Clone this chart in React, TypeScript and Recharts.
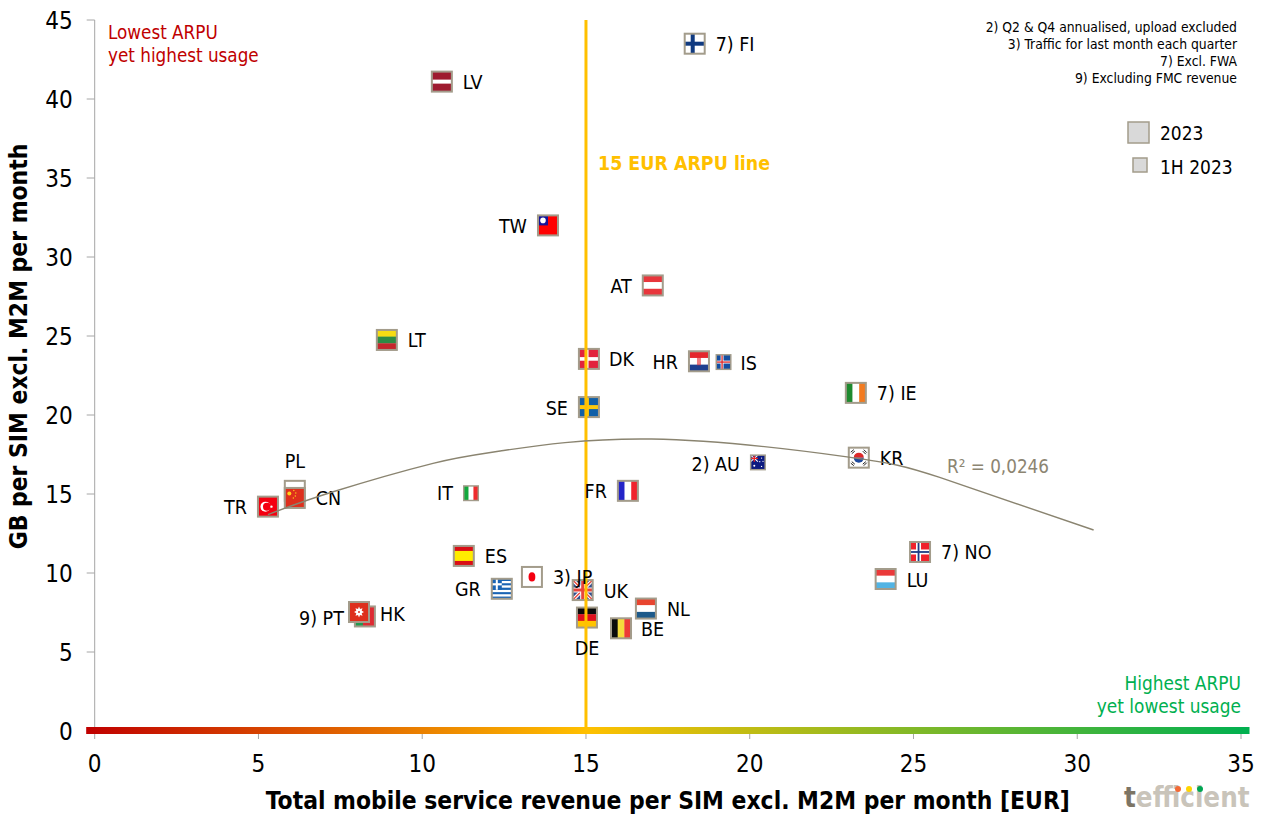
import React from 'react';
import { ComposedChart, Line, Scatter, XAxis, YAxis, ReferenceArea } from 'recharts';

const FONT = '"DejaVu Sans Condensed", "DejaVu Sans", sans-serif';

const xTicks = [0, 5, 10, 15, 20, 25, 30, 35];
const yTicks = [0, 5, 10, 15, 20, 25, 30, 35, 40, 45];

// 2023 flags
const fullYearCodes = ['FI', 'LV', 'TW', 'AT', 'LT', 'DK', 'HR', 'SE', 'IE', 'KR', 'FR', 'PL', 'CN', 'TR', 'ES', 'JP', 'GR', 'UK', 'DE', 'BE', 'NL', 'PT', 'HK', 'NO', 'LU'];
const fullYearArpu = [18.32, 10.6, 13.84, 17.04, 8.92, 15.09, 18.45, 15.09, 23.24, 23.33, 16.28, 6.11, 6.11, 5.29, 11.27, 13.35, 12.43, 14.9, 15.03, 16.07, 16.83, 8.25, 8.07, 25.2, 24.15];
const fullYearUsage = [43.5, 41.1, 32.0, 28.2, 24.75, 23.55, 23.4, 20.5, 21.4, 17.3, 15.2, 15.2, 14.75, 14.2, 11.08, 9.75, 9.0, 8.92, 7.18, 6.5, 7.75, 7.25, 7.53, 11.33, 9.62];

// 1H 2023 flags
const halfYearCodes = ['IS', 'AU', 'IT'];
const halfYearArpu = [19.2, 20.25, 11.49];
const halfYearUsage = [23.35, 17.0, 15.05];

const footnoteLabels: Record<string, string> = { FI: '7) FI', IE: '7) IE', NO: '7) NO', AU: '2) AU', JP: '3) JP', PT: '9) PT' };

// R2 trendline
const trendArpu = [5.29, 7.28, 10.33, 12.38, 17.0, 22.97, 25.8, 30.5];
const trendUsage = [13.7, 15.14, 16.94, 17.72, 18.48, 17.35, 16.05, 12.72];

// 15 EUR ARPU line
const arpuLineX = [15, 15];
const arpuLineY = [0, 45];

const notes = ['2) Q2 & Q4 annualised, upload excluded', '3) Traffic for last month each quarter', '7) Excl. FWA', '9) Excluding FMC revenue'];

const toRows = (codes: string[], arpu: number[], usage: number[]) =>
  codes.map((code, i) => ({ code, arpu: arpu[i], usage: usage[i] }));

const fullYearRows = toRows(fullYearCodes, fullYearArpu, fullYearUsage);
const halfYearRows = toRows(halfYearCodes, halfYearArpu, halfYearUsage);
const trendRows = trendArpu.map((arpu, i) => ({ arpu, usage: trendUsage[i] }));
const arpuLineRows = arpuLineX.map((arpu, i) => ({ arpu, usage: arpuLineY[i] }));

// where each country's name sits relative to its flag: [dx, dy, anchor]
const leftSide = ['TW', 'AT', 'HR', 'SE', 'FR', 'TR', 'GR', 'PT', 'AU', 'IT'];
const labelTweaks: Record<string, [number, number, string]> = {
  PL: [0, -29, 'middle'],
  DE: [0, 31, 'middle'],
  BE: [20, 1, 'start'],
  PT: [-21, 2, 'end'],
  HK: [21, 2, 'start'],
  DK: [20, 1, 'start'],
  AU: [-18, 2, 'end'],
  IT: [-18, 0, 'end'],
  IS: [17, 1, 'start'],
};

const stripesH = (colors: string[]) =>
  colors.map((c, i) => <rect key={i} x={0} y={(i * 20) / colors.length} width={20} height={20 / colors.length + (i < colors.length - 1 ? 0.3 : 0)} fill={c} />);
const stripesV = (colors: string[]) =>
  colors.map((c, i) => <rect key={i} x={(i * 20) / colors.length} y={0} width={20 / colors.length + (i < colors.length - 1 ? 0.3 : 0)} height={20} fill={c} />);
const cross = (bg: string, fg: string, w: number, inner?: string) => (
  <>
    <rect width={20} height={20} fill={bg} />
    <rect x={6} y={0} width={w} height={20} fill={fg} />
    <rect x={0} y={10 - w / 2} width={20} height={w} fill={fg} />
    {inner && <rect x={6 + w / 2 - 0.9} y={0} width={1.8} height={20} fill={inner} />}
    {inner && <rect x={0} y={9.1} width={20} height={1.8} fill={inner} />}
  </>
);
const unionJack = (
  <>
    <rect width={20} height={20} fill="#34508f" />
    <path d="M0 0L20 20M20 0L0 20" stroke="#fff" strokeWidth={3.5} />
    <path d="M0 0L20 20M20 0L0 20" stroke="#e8453c" strokeWidth={1.3} />
    <path d="M10 0V20M0 10H20" stroke="#fff" strokeWidth={5} />
    <path d="M10 0V20M0 10H20" stroke="#e8453c" strokeWidth={3} />
  </>
);

const flagArt: Record<string, React.ReactNode> = {
  FI: cross('#fff', '#103a80', 4),
  LV: (
    <>
      <rect width={20} height={20} fill="#9e1b2f" />
      <rect y={8} width={20} height={4} fill="#fff" />
    </>
  ),
  TW: (
    <>
      <rect width={20} height={20} fill="#f00" />
      <rect width={10} height={10} fill="#13139a" />
      <circle cx={5} cy={5} r={2.8} fill="#fff" />
    </>
  ),
  AT: stripesH(['#e8363c', '#fff', '#e8363c']),
  LT: stripesH(['#f6dc14', '#2e8b45', '#c5262d']),
  DK: cross('#e2233c', '#fff', 3.6),
  HR: (
    <>
      {stripesH(['#e5272d', '#fff', '#1f3f8f'])}
      <rect x={8} y={5} width={4} height={9} fill="#e5272d" opacity={0.6} />
    </>
  ),
  SE: cross('#0f5fa8', '#fdc90d', 4),
  IE: stripesV(['#1e8a2f', '#fff', '#f27b20']),
  KR: (
    <>
      <rect width={20} height={20} fill="#fff" />
      <path d="M5 10a5 5 0 0 1 10 0z" fill="#dd2a2a" />
      <path d="M5 10a5 5 0 0 0 10 0z" fill="#1f4a9e" />
      <path d="M2 4.5L5 2M3 6L6 3.5M15 2L18 5M14 3.5L17 6.5M2 15.5L5 18M3 14L6 16.5M15 18L18 15M14 16.5L17 14" stroke="#222" strokeWidth={1} />
    </>
  ),
  FR: stripesV(['#2424c8', '#fff', '#f0222c']),
  PL: stripesH(['#fff', '#dc2f2a']),
  CN: (
    <>
      <rect width={20} height={20} fill="#de2f1c" />
      <circle cx={4.5} cy={5.5} r={2} fill="#ffd21a" />
      <circle cx={9} cy={2.5} r={0.7} fill="#ffd21a" />
      <circle cx={11} cy={5} r={0.7} fill="#ffd21a" />
      <circle cx={10.5} cy={8} r={0.7} fill="#ffd21a" />
      <circle cx={8.5} cy={10} r={0.7} fill="#ffd21a" />
    </>
  ),
  TR: (
    <>
      <rect width={20} height={20} fill="#f40010" />
      <circle cx={7.5} cy={10} r={5} fill="#fff" />
      <circle cx={9} cy={10} r={4} fill="#f40010" />
      <circle cx={13.5} cy={10} r={1.2} fill="#fff" />
    </>
  ),
  ES: stripesH(['#d90f16', '#ffec00', '#ffec00', '#d90f16']),
  JP: (
    <>
      <rect width={20} height={20} fill="#fff" />
      <ellipse cx={10} cy={10} rx={3.4} ry={4.6} fill="#f40010" />
    </>
  ),
  GR: (
    <>
      {stripesH(['#1a64b4', '#fff', '#1a64b4', '#fff', '#1a64b4', '#fff', '#1a64b4', '#fff', '#1a64b4'])}
      <rect width={10} height={11} fill="#1a64b4" />
      <rect x={4} width={2} height={11} fill="#fff" />
      <rect y={4.4} width={10} height={2.2} fill="#fff" />
    </>
  ),
  UK: unionJack,
  DE: stripesH(['#0a0a0a', '#e0101c', '#ffc400']),
  BE: stripesV(['#0a0a0a', '#f5dc3c', '#ec3b36']),
  NL: stripesH(['#e8452f', '#fff', '#1d5a8a']),
  PT: (
    <>
      <rect width={20} height={20} fill="#de2a32" />
      <rect width={8} height={20} fill="#1f9a4e" />
    </>
  ),
  HK: (
    <>
      <rect width={20} height={20} fill="#de2f1c" />
      <path d="M10 4.5l1 2.500 2.500-.8-.8 2.600 2.300 1.200-2.300 1.200.8 2.600-2.500-.8-1 2.500-1-2.500-2.500.8.8-2.600-2.300-1.200 2.300-1.200-.8-2.600 2.500.8z" fill="#fff" />
      <circle cx={10} cy={10} r={1} fill="#de2f1c" />
    </>
  ),
  NO: cross('#f0222c', '#fff', 5, '#1e3c85'),
  LU: stripesH(['#ea3a3a', '#fff', '#52b4e4']),
  IS: cross('#144ea0', '#fff', 4, '#dc2a2a'),
  AU: (
    <>
      <rect width={20} height={20} fill="#0c1a80" />
      <path d="M0 0L10 9M10 0L0 9" stroke="#fff" strokeWidth={1.5} />
      <path d="M5 0V9M0 4.500H10" stroke="#e22" strokeWidth={1.8} />
      <circle cx={5} cy={14.5} r={1.4} fill="#fff" />
      <circle cx={15} cy={4} r={0.9} fill="#fff" />
      <circle cx={12.5} cy={9} r={0.9} fill="#fff" />
      <circle cx={17} cy={8.5} r={0.9} fill="#fff" />
      <circle cx={15} cy={15.5} r={0.9} fill="#fff" />
    </>
  ),
  IT: stripesV(['#12a83d', '#fff', '#ef2b2d']),
};

const makeFlag = (size: number) => (props: any) => {
  const { cx, cy, payload } = props;
  return (
    <g transform={`translate(${cx - size / 2},${cy - size / 2}) scale(${size / 22})`}>
      <g transform="translate(1,1)">
        {flagArt[payload.code]}
        <rect x={0} y={0} width={20} height={20} fill="none" stroke="#a39c8b" strokeWidth={2} />
      </g>
    </g>
  );
};

const CountryLabel = (props: any) => {
  const { cx, cy, payload } = props;
  const code = payload.code;
  const side = leftSide.includes(code) ? -21 : 21;
  const [dx, dy, anchor] = labelTweaks[code] ?? [side, 1, side < 0 ? 'end' : 'start'];
  return (
    <text x={cx + dx} y={cy + dy} textAnchor={anchor as any} dominantBaseline="central" fontSize={19.5} fill="#000">
      {footnoteLabels[code] ?? code}
    </text>
  );
};

const noMark = () => <g />;

export default function App() {
  return (
    <div style={{ position: 'absolute', left: 0, top: 0, width: 1264, height: 814, background: '#fff', fontFamily: FONT }}>
      <ComposedChart width={1264} height={814} margin={{ top: 20, right: 23, bottom: 0, left: 0 }}>
        <defs>
          <linearGradient id="arpuBar" x1="0" y1="0" x2="1" y2="0">
            <stop offset="0%" stopColor="#C00000" />
            <stop offset="43%" stopColor="#FFC000" />
            <stop offset="100%" stopColor="#00B050" />
          </linearGradient>
        </defs>
        <XAxis
          type="number"
          dataKey="arpu"
          domain={[0, 35]}
          ticks={xTicks}
          height={83}
          stroke="#a6a6a6"
          tickSize={8}
          tickMargin={16}
          interval={0}
          tick={{ fill: '#000', fontSize: 24 }}
          label={{ value: 'Total mobile service revenue per SIM excl. M2M per month [EUR]', position: 'insideBottom', offset: 5, fontSize: 24.4, fontWeight: 700, fill: '#000' }}
        />
        <YAxis
          type="number"
          dataKey="usage"
          domain={[0, 45]}
          ticks={yTicks}
          width={94.7}
          stroke="#a6a6a6"
          tickSize={8}
          tickMargin={14}
          interval={0}
          tick={{ fill: '#000', fontSize: 24 }}
          label={{ value: 'GB per SIM excl. M2M per month', angle: -90, position: 'insideLeft', offset: 18, dy: -29, textAnchor: 'middle', fontSize: 24.4, fontWeight: 700, fill: '#000' }}
        />
        <Scatter name="2023" data={fullYearRows} shape={makeFlag(22)} isAnimationActive={false} />
        <Scatter name="1H 2023" data={halfYearRows} shape={makeFlag(16)} isAnimationActive={false} />
        <Scatter data={arpuLineRows} shape={noMark} line={{ stroke: '#FFC000', strokeWidth: 3 }} isAnimationActive={false} />
        <Scatter data={[...fullYearRows, ...halfYearRows]} shape={CountryLabel} isAnimationActive={false} />
        <Line data={trendRows} dataKey="usage" type="natural" stroke="#8a8470" strokeWidth={1.4} dot={false} isAnimationActive={false} {...({ zIndex: 700 } as any)} />
        <ReferenceArea x1={-0.26} x2={35.26} y1={-0.19} y2={0.25} ifOverflow="visible" fill="url(#arpuBar)" fillOpacity={1} stroke="none" {...({ zIndex: 750 } as any)} />

        <text x={108} y={39} fontSize={18.7} fill="#C00000">Lowest ARPU</text>
        <text x={108} y={62} fontSize={18.7} fill="#C00000">yet highest usage</text>
        <text x={598} y={170} fontSize={19.4} fontWeight={700} fill="#FFC000">15 EUR ARPU line</text>
        {notes.map((n, i) => (
          <text key={n} x={1237} y={32 + i * 17} textAnchor="end" fontSize={13.8} fill="#000">{n}</text>
        ))}
        <rect x={1128} y={122} width={21} height={21} fill="#d9d9d9" stroke="#a39c8b" strokeWidth={1.5} />
        <text x={1160} y={140} fontSize={19} fill="#000">2023</text>
        <rect x={1133} y={158} width={14} height={14} fill="#d9d9d9" stroke="#a39c8b" strokeWidth={1.5} />
        <text x={1160} y={174} fontSize={19} fill="#000">1H 2023</text>
        <text x={947} y={473} fontSize={18.7} fill="#8c8572">R² = 0,0246</text>
        <text x={1241} y={690} textAnchor="end" fontSize={18.9} fill="#00B050">Highest ARPU</text>
        <text x={1241} y={713} textAnchor="end" fontSize={18.9} fill="#00B050">yet lowest usage</text>
        <text x={1124} y={807} fontSize={27.5} fontWeight={700} fill="#c9c4ba">
          <tspan fill="#7d7565">t</tspan>efficient
        </text>
        <circle cx={1178} cy={789} r={3} fill="#f26a36" />
        <circle cx={1189} cy={789} r={3} fill="#ffd500" />
        <circle cx={1200} cy={789} r={3} fill="#00a651" />
      </ComposedChart>
    </div>
  );
}
